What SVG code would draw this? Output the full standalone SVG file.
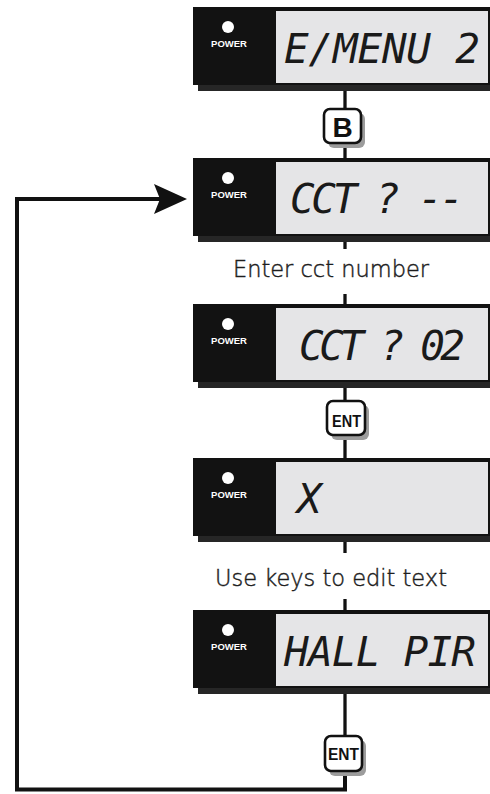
<svg xmlns="http://www.w3.org/2000/svg" width="490" height="794" viewBox="0 0 490 794">
<style>
.body{fill:#121212}
.shadow{fill:#262626}
.panel{fill:#e5e5e7}
.led{fill:#ffffff}
.pw{font-family:"Liberation Sans",Arial,sans-serif;font-size:9.5px;font-weight:bold;fill:#ffffff;text-anchor:middle}
.lcd{font-family:"DejaVu Sans Mono","Liberation Mono",monospace;font-style:italic;font-size:41px;fill:#1a1a1a}
.lbl{font-family:"DejaVu Sans","Liberation Sans",sans-serif;font-size:22.5px;fill:#1e1e1e;stroke:#1e1e1e;stroke-width:0.45;text-anchor:middle;font-weight:300}
.keyface{fill:#ffffff;stroke:#111;stroke-width:2.6}
.keyshadow{fill:#9c9c9c}
.keytxt{font-family:"Liberation Sans",Arial,sans-serif;font-weight:bold;fill:#111;text-anchor:middle}
.stem{stroke:#111;stroke-width:3.3;fill:none}
.loop{stroke:#111;stroke-width:4;fill:none;stroke-linejoin:miter}
</style>
<defs>
<g id="disp">
<rect class="shadow" x="198" y="5" width="292" height="79"/>
<rect class="body" x="193" y="0" width="297" height="78"/>
<rect class="panel" x="276" y="4" width="212" height="72"/>
<circle class="led" cx="228" cy="20" r="6"/>
<text class="pw" x="229" y="40">POWER</text>
</g>
</defs>
<g id="connectors">
<line class="stem" x1="345" y1="88" x2="345" y2="112"/>
<line class="stem" x1="345" y1="140" x2="345" y2="160"/>
<line class="stem" x1="345" y1="238" x2="345" y2="249"/>
<line class="stem" x1="345" y1="294" x2="345" y2="306"/>
<line class="stem" x1="345" y1="386" x2="345" y2="404"/>
<line class="stem" x1="345" y1="432" x2="345" y2="460"/>
<line class="stem" x1="345" y1="540" x2="345" y2="553"/>
<line class="stem" x1="345" y1="599" x2="345" y2="612"/>
<line class="stem" x1="345" y1="692" x2="345" y2="739"/>
<path class="loop" d="M345,768 V789.5 H17 V199 H162"/>
<polygon points="154,184 187,199 154,214 160,199" fill="#111"/>
</g>
<g id="display1">
<use href="#disp" y="7"/>
<text class="lcd" x="284" y="63" textLength="196" lengthAdjust="spacing">E/MENU 2</text>
</g>
<g id="keyB">
<rect class="keyshadow" x="328" y="113" width="37" height="35" rx="6"/>
<rect class="keyface" x="324" y="109" width="37" height="34" rx="6"/>
<text class="keytxt" x="342.5" y="136.5" font-size="28">B</text>
</g>
<g id="display2">
<use href="#disp" y="158"/>
<text class="lcd" x="290" y="213" textLength="174" lengthAdjust="spacing">CCT ? --</text>
</g>
<g id="label1">
<text class="lbl" x="331" y="277">Enter cct number</text>
</g>
<g id="display3">
<use href="#disp" y="304"/>
<text class="lcd" x="299" y="360" textLength="166" lengthAdjust="spacing">CCT ? 02</text>
</g>
<g id="keyENT1">
<rect class="keyshadow" x="331" y="405" width="38" height="35" rx="6"/>
<rect class="keyface" x="327" y="401" width="38" height="34" rx="6"/>
<text class="keytxt" x="346.5" y="427" font-size="17" textLength="29" lengthAdjust="spacingAndGlyphs">ENT</text>
</g>
<g id="display4">
<use href="#disp" y="458"/>
<text class="lcd" x="297" y="513">X</text>
</g>
<g id="label2">
<text class="lbl" x="331" y="586">Use keys to edit text</text>
</g>
<g id="display5">
<use href="#disp" y="610"/>
<text class="lcd" x="284" y="666" textLength="192" lengthAdjust="spacing">HALL PIR</text>
</g>
<g id="keyENT2">
<rect class="keyshadow" x="329" y="740" width="37" height="36" rx="6"/>
<rect class="keyface" x="325" y="736" width="37" height="35" rx="6"/>
<text class="keytxt" x="343.5" y="760" font-size="17" textLength="31" lengthAdjust="spacingAndGlyphs">ENT</text>
</g>
</svg>
